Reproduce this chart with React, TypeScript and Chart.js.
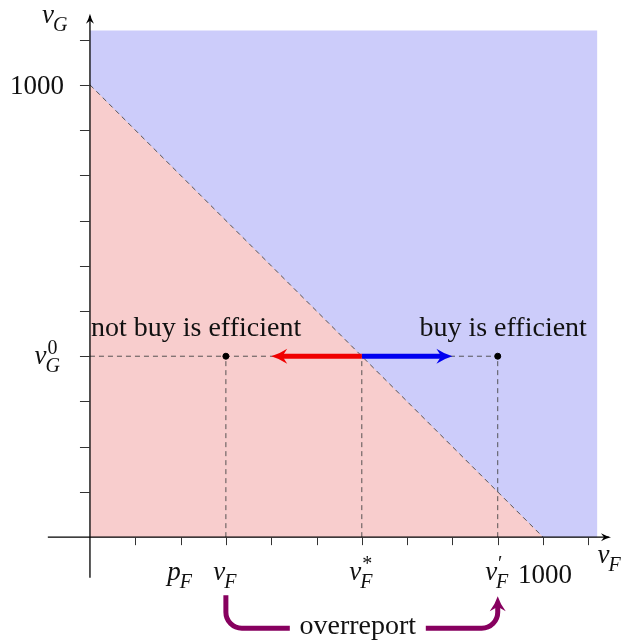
import React, { useEffect, useRef } from 'react';
import { Chart, registerables } from 'chart.js';
Chart.register(...registerables);

// ---- data ----
const X_RANGE = [-150, 1150];
const Y_RANGE = [-150, 1150];
const REGION_MAX = 1120;
const THRESHOLD = 1000;
const V_G0 = 400;
const P_F = 200;
const V_F = 300;
const V_F_STAR = 600;
const V_F_PRIME = 900;
const RED_ARROW_END = 400;
const BLUE_ARROW_END = 800;
const X_TICKS = [100, 200, 300, 400, 500, 600, 700, 800, 900, 1000, 1100];
const Y_TICKS = [100, 200, 300, 400, 500, 600, 700, 800, 900, 1000, 1100];
const X_LABELS = [
  { value: P_F, base: 'p', sub: 'F', sup: '' },
  { value: V_F, base: 'v', sub: 'F', sup: '' },
  { value: V_F_STAR, base: 'v', sub: 'F', sup: '*' },
  { value: V_F_PRIME, base: 'v', sub: 'F', sup: '′' },
];
const REGION_TEXT_LEFT = 'not buy is efficient';
const REGION_TEXT_RIGHT = 'buy is efficient';
const OVERREPORT_TEXT = 'overreport';

const SERIF = '"Liberation Serif", "DejaVu Serif", serif';
const FS = 27;
const FS_TEXT = 28;
const PURPLE = 'rgb(135,0,95)';

function mathLabel(
  ctx: CanvasRenderingContext2D,
  x: number,
  y: number,
  base: string,
  sub: string,
  sup: string,
  align: 'left' | 'center' | 'right',
  size: number
) {
  ctx.save();
  ctx.textBaseline = 'alphabetic';
  ctx.textAlign = 'left';
  ctx.fillStyle = '#111';
  const bigF = `italic ${size}px ${SERIF}`;
  const smallF = `italic ${Math.round(size * 0.74)}px ${SERIF}`;
  const smallU = `${Math.round(size * 0.74)}px ${SERIF}`;
  ctx.font = bigF;
  const bw = ctx.measureText(base).width;
  ctx.font = smallF;
  const sw = sub ? ctx.measureText(sub).width : 0;
  ctx.font = smallU;
  const pw = sup ? ctx.measureText(sup).width : 0;
  const total = bw + Math.max(sw, pw) + 1;
  let x0 = x;
  if (align === 'center') x0 = x - total / 2;
  if (align === 'right') x0 = x - total;
  ctx.font = bigF;
  ctx.fillText(base, x0, y);
  if (sub) {
    ctx.font = smallF;
    ctx.fillText(sub, x0 + bw - 1, y + size * 0.28);
  }
  if (sup) {
    ctx.font = smallU;
    ctx.fillText(sup, x0 + bw + 1, y - size * 0.38);
  }
  ctx.restore();
}

function arrowHead(
  ctx: CanvasRenderingContext2D,
  tx: number,
  ty: number,
  dx: number,
  dy: number,
  len: number,
  half: number,
  color: string
) {
  const n = Math.hypot(dx, dy);
  const ux = dx / n, uy = dy / n;
  const px = -uy, py = ux;
  const bx = tx - ux * len, by = ty - uy * len;
  const ix = tx - ux * len * 0.7, iy = ty - uy * len * 0.7;
  ctx.save();
  ctx.fillStyle = color;
  ctx.beginPath();
  ctx.moveTo(tx, ty);
  ctx.quadraticCurveTo(tx - ux * len * 0.5 + px * half * 0.3, ty - uy * len * 0.5 + py * half * 0.3, bx + px * half, by + py * half);
  ctx.lineTo(ix, iy);
  ctx.lineTo(bx - px * half, by - py * half);
  ctx.quadraticCurveTo(tx - ux * len * 0.5 - px * half * 0.3, ty - uy * len * 0.5 - py * half * 0.3, tx, ty);
  ctx.closePath();
  ctx.fill();
  ctx.restore();
}

const decor = {
  id: 'decor',
  afterDatasetsDraw(chart: any) {
    const ctx: CanvasRenderingContext2D = chart.ctx;
    const xs = chart.scales.x;
    const ys = chart.scales.y;
    const X = (v: number) => xs.getPixelForValue(v);
    const Y = (v: number) => ys.getPixelForValue(v);
    const x0 = X(0), y0 = Y(0);

    ctx.save();
    // axes
    ctx.strokeStyle = '#000';
    ctx.lineWidth = 1.3;
    ctx.beginPath();
    ctx.moveTo(X(-93), y0);
    ctx.lineTo(X(1145), y0);
    ctx.moveTo(x0, Y(-90));
    ctx.lineTo(x0, Y(1152));
    ctx.stroke();
    arrowHead(ctx, X(1150), y0, 1, 0, 10, 4, '#000');
    arrowHead(ctx, x0, Y(1157), 0, -1, 10, 4, '#000');

    // ticks
    ctx.lineWidth = 1;
    ctx.strokeStyle = '#333';
    ctx.beginPath();
    X_TICKS.forEach((t) => {
      const px = Math.round(X(t)) + 0.5;
      ctx.moveTo(px, y0);
      ctx.lineTo(px, y0 + 8);
    });
    Y_TICKS.forEach((t) => {
      const py = Math.round(Y(t)) + 0.5;
      ctx.moveTo(x0 - 10, py);
      ctx.lineTo(x0, py);
    });
    ctx.stroke();

    // x labels
    X_LABELS.forEach((l) => {
      mathLabel(ctx, X(l.value), y0 + 43, l.base, l.sub, l.sup, 'center', FS);
    });
    ctx.fillStyle = '#111';
    ctx.font = `${FS}px ${SERIF}`;
    ctx.textAlign = 'center';
    ctx.textBaseline = 'alphabetic';
    ctx.fillText(String(THRESHOLD), X(THRESHOLD) + 2, y0 + 46);

    // y labels
    ctx.textAlign = 'right';
    ctx.fillText(String(THRESHOLD), x0 - 26, Y(THRESHOLD) + 9);
    mathLabel(ctx, x0 - 28, Y(V_G0) + 8, 'v', 'G', '0', 'right', FS);

    // axis names
    mathLabel(ctx, 42, Y(1150) + 6, 'v', 'G', '', 'left', FS);
    mathLabel(ctx, X(1120), y0 + 26, 'v', 'F', '', 'left', FS);

    // region texts
    ctx.fillStyle = '#111';
    ctx.font = `${FS_TEXT}px ${SERIF}`;
    ctx.textAlign = 'left';
    ctx.fillText(REGION_TEXT_LEFT, x0 + 1, Y(V_G0) - 20);
    ctx.textAlign = 'center';
    ctx.fillText(REGION_TEXT_RIGHT, X(912), Y(V_G0) - 20);

    // red / blue arrowheads
    arrowHead(ctx, X(RED_ARROW_END), Y(V_G0), -1, 0, 16, 7.5, 'rgb(240,0,0)');
    arrowHead(ctx, X(BLUE_ARROW_END), Y(V_G0), 1, 0, 16, 7.5, 'rgb(0,0,240)');

    // overreport arrow
    const ax = X(V_F), bx = X(V_F_PRIME);
    const top = y0 + 58, low = y0 + 91, r = 16;
    const mid = (ax + bx) / 2 - 4;
    ctx.strokeStyle = PURPLE;
    ctx.lineWidth = 5;
    ctx.lineCap = 'butt';
    ctx.beginPath();
    ctx.moveTo(ax, top);
    ctx.lineTo(ax, low - r);
    ctx.arcTo(ax, low, ax + r, low, r);
    ctx.lineTo(mid - 68, low);
    ctx.moveTo(mid + 68, low);
    ctx.lineTo(bx - r, low);
    ctx.arcTo(bx, low, bx, low - r, r);
    ctx.lineTo(bx, top + 10);
    ctx.stroke();
    arrowHead(ctx, bx, top + 1, 0, -1, 15, 8, PURPLE);
    ctx.fillStyle = '#111';
    ctx.font = `${FS_TEXT}px ${SERIF}`;
    ctx.textAlign = 'center';
    ctx.fillText(OVERREPORT_TEXT, mid, low + 6);
    ctx.restore();
  },
};

export default function App() {
  const ref = useRef<HTMLCanvasElement | null>(null);
  useEffect(() => {
    if (!ref.current) return;
    const dash = { borderColor: '#444', borderWidth: 0.9, borderDash: [5, 4], pointRadius: 0, showLine: true, fill: false };
    const chart = new Chart(ref.current, {
      type: 'scatter',
      data: {
        datasets: [
          {
            data: [{ x: 0, y: REGION_MAX }, { x: REGION_MAX, y: REGION_MAX }],
            showLine: true,
            borderWidth: 0,
            pointRadius: 0,
            fill: 'origin',
            backgroundColor: 'rgb(204,204,250)',
            order: 10,
          },
          {
            data: [{ x: 0, y: THRESHOLD }, { x: THRESHOLD, y: 0 }],
            showLine: true,
            borderWidth: 0,
            pointRadius: 0,
            fill: 'origin',
            backgroundColor: 'rgb(248,205,205)',
            order: 9,
          },
          { ...dash, data: [{ x: 0, y: THRESHOLD }, { x: THRESHOLD, y: 0 }], order: 8 },
          { ...dash, data: [{ x: 0, y: V_G0 }, { x: V_F_PRIME, y: V_G0 }], order: 7 },
          { ...dash, data: [{ x: V_F, y: 0 }, { x: V_F, y: V_G0 }], order: 7 },
          { ...dash, data: [{ x: V_F_STAR, y: 0 }, { x: V_F_STAR, y: V_G0 }], order: 7 },
          { ...dash, data: [{ x: V_F_PRIME, y: 0 }, { x: V_F_PRIME, y: V_G0 }], order: 7 },
          {
            data: [{ x: V_F_STAR, y: V_G0 }, { x: RED_ARROW_END + 20, y: V_G0 }],
            showLine: true,
            borderColor: 'rgb(240,0,0)',
            borderWidth: 5,
            pointRadius: 0,
            fill: false,
            order: 2,
          },
          {
            data: [{ x: V_F_STAR, y: V_G0 }, { x: BLUE_ARROW_END - 20, y: V_G0 }],
            showLine: true,
            borderColor: 'rgb(0,0,240)',
            borderWidth: 5,
            pointRadius: 0,
            fill: false,
            order: 2,
          },
          {
            data: [{ x: V_F, y: V_G0 }, { x: V_F_PRIME, y: V_G0 }],
            showLine: false,
            pointRadius: 3,
            pointBackgroundColor: '#000',
            pointBorderColor: '#000',
            order: 1,
          },
        ] as any,
      },
      options: {
        animation: false,
        responsive: false,
        devicePixelRatio: 1,
        layout: { padding: { left: 22, right: 13, top: 17, bottom: 37 } },
        scales: {
          x: { type: 'linear', min: X_RANGE[0], max: X_RANGE[1], display: false },
          y: { type: 'linear', min: Y_RANGE[0], max: Y_RANGE[1], display: false },
        },
        plugins: { legend: { display: false }, tooltip: { enabled: false } },
      } as any,
      plugins: [decor],
    });
    return () => chart.destroy();
  }, []);
  return (
    <div style={{ position: 'absolute', left: 0, top: 0, width: 624, height: 642, background: '#fff' }}>
      <canvas ref={ref} width={624} height={642} style={{ width: 624, height: 642 }} />
    </div>
  );
}
